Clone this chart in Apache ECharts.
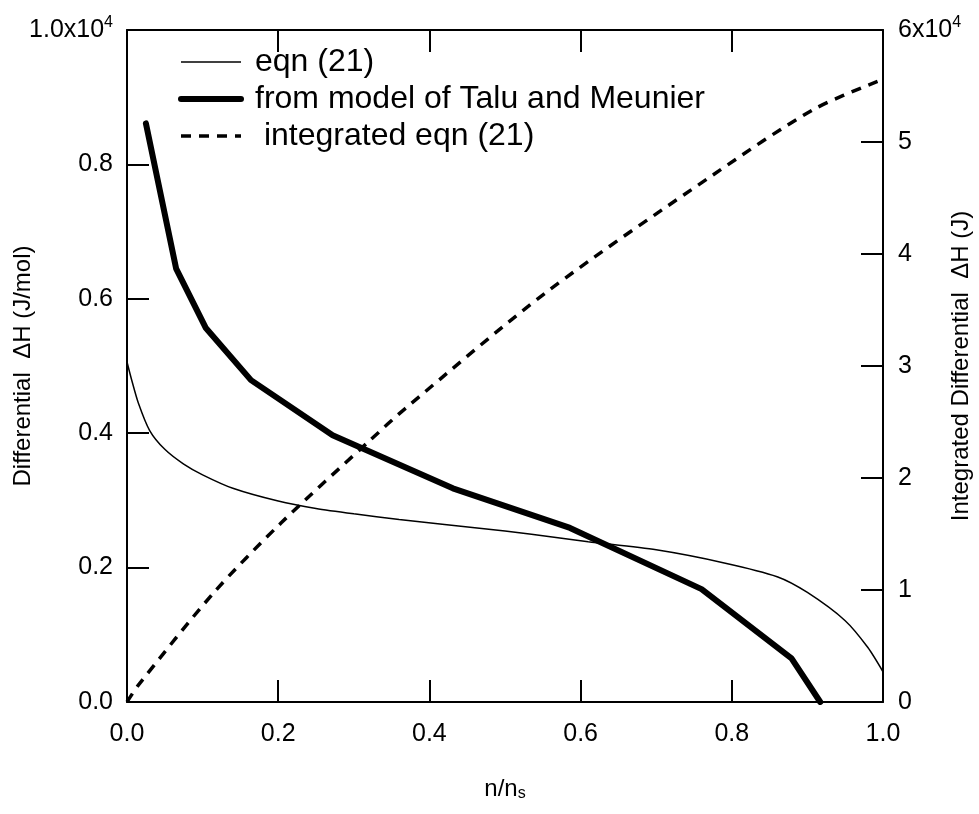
<!DOCTYPE html>
<html>
<head>
<meta charset="utf-8">
<script src="https://cdn.jsdelivr.net/npm/echarts@6/dist/echarts.min.js"></script>
<style>
html,body{margin:0;padding:0;background:#fff;}
#chart{width:979px;height:814px;}
</style>
</head>
<body>
<div id="chart"></div>
<script>
// ---- data ----
const eqn21 = [
  [0.000, 5060], [0.006, 4800], [0.015, 4450], [0.030, 4040], [0.050, 3760],
  [0.075, 3540], [0.100, 3380], [0.140, 3180], [0.200, 2990], [0.250, 2880],
  [0.300, 2800], [0.360, 2715], [0.420, 2640], [0.500, 2545], [0.570, 2445],
  [0.610, 2385], [0.700, 2265], [0.790, 2070], [0.860, 1865], [0.900, 1630],
  [0.950, 1210], [0.980, 810], [1.000, 450]
];
const taluMeunier = [
  [0.025, 8610], [0.065, 6450], [0.104, 5570], [0.164, 4790], [0.272, 3970],
  [0.431, 3180], [0.586, 2590], [0.760, 1680], [0.879, 650], [0.917, 0]
];
const integratedEqn21 = [
  [0.000, 0], [0.015, 1500], [0.114, 9700], [0.204, 16000], [0.322, 23400],
  [0.368, 26200], [0.555, 36600], [0.776, 47100], [0.908, 52900], [1.000, 55600]
];
const seriesNames = ['eqn (21)', 'from model of Talu and Meunier', ' integrated eqn (21)'];
const xTickLabels = ['0.0', '0.2', '0.4', '0.6', '0.8', '1.0'];
const leftTickLabels = ['0.0', '0.2', '0.4', '0.6', '0.8', '1.0x10{sup|4}'];
const rightTickLabels = ['0', '1', '2', '3', '4', '5', '6x10{sup|4}'];

const FONT = '"Liberation Sans", Arial, Helvetica, sans-serif';
const tickFont = 25;
const supRich = {
  sup: { fontSize: 16, fontFamily: FONT, color: '#000', verticalAlign: 'top', padding: [0, 0, 14, 0] }
};

const chart = echarts.init(document.getElementById('chart'), null, { renderer: 'canvas' });

const axisLine = { show: true, onZero: false, lineStyle: { color: '#000', width: 2 } };
const axisTick = { show: true, inside: true, length: 22, lineStyle: { color: '#000', width: 2 } };

chart.setOption({
  backgroundColor: '#fff',
  animation: false,
  grid: { left: 127, right: 96, top: 30, bottom: 112, containLabel: false, outerBoundsMode: 'none' },
  legend: {
    orient: 'vertical',
    left: 178,
    top: 46,
    padding: 0,
    itemWidth: 60,
    itemHeight: 14,
    itemGap: 5,
    data: seriesNames,
    textStyle: { fontSize: 32, fontFamily: FONT, color: '#000', padding: [0, 0, 0, 9] },
    lineStyle: { width: 'inherit', type: 'inherit' },
    itemStyle: { opacity: 0 }
  },
  xAxis: [
    {
      type: 'value', min: 0, max: 1, interval: 0.2, position: 'bottom',
      axisLine: axisLine, axisTick: axisTick, splitLine: { show: false },
      axisLabel: {
        margin: 20, fontSize: tickFont, fontFamily: FONT, color: '#000',
        formatter: (v) => xTickLabels[Math.round(v / 0.2)]
      },
      name: 'n/n{sub|s}', nameLocation: 'middle', nameGap: 74, nameMoveOverlap: false,
      nameTextStyle: {
        fontSize: 24, fontFamily: FONT, color: '#000',
        rich: { sub: { fontSize: 16, fontFamily: FONT, color: '#000', verticalAlign: 'bottom', padding: [10, 0, 0, 0] } }
      }
    },
    {
      type: 'value', min: 0, max: 1, interval: 0.2, position: 'top',
      axisLine: axisLine, axisTick: axisTick, splitLine: { show: false },
      axisLabel: { show: false }
    }
  ],
  yAxis: [
    {
      type: 'value', min: 0, max: 10000, interval: 2000, position: 'left',
      axisLine: axisLine, axisTick: axisTick, splitLine: { show: false },
      axisLabel: {
        margin: 14, fontSize: tickFont, fontFamily: FONT, color: '#000',
        formatter: (v) => leftTickLabels[Math.round(v / 2000)],
        rich: supRich
      },
      name: 'Differential  \u0394H (J/mol)', nameLocation: 'middle', nameGap: 92, nameRotate: 90,
      nameMoveOverlap: false,
      nameTextStyle: { fontSize: 24, fontFamily: FONT, color: '#000' }
    },
    {
      type: 'value', min: 0, max: 60000, interval: 10000, position: 'right',
      axisLine: axisLine, axisTick: axisTick, splitLine: { show: false },
      axisLabel: {
        margin: 15, fontSize: tickFont, fontFamily: FONT, color: '#000',
        formatter: (v) => rightTickLabels[Math.round(v / 10000)],
        rich: supRich
      },
      name: 'Integrated Differential  \u0394H (J)', nameLocation: 'middle', nameGap: 66, nameRotate: 90,
      nameMoveOverlap: false,
      nameTextStyle: { fontSize: 24, fontFamily: FONT, color: '#000' }
    }
  ],
  series: [
    {
      name: seriesNames[0], type: 'line', xAxisIndex: 0, yAxisIndex: 0,
      data: eqn21, smooth: 0.25, showSymbol: false, symbol: 'none', symbolSize: 0,
      itemStyle: { color: '#000' },
      lineStyle: { color: '#000', width: 1.5 }
    },
    {
      name: seriesNames[1], type: 'line', xAxisIndex: 0, yAxisIndex: 0,
      data: taluMeunier, smooth: false, showSymbol: false, symbol: 'none', symbolSize: 0,
      itemStyle: { color: '#000' },
      lineStyle: { color: '#000', width: 6, cap: 'round' }
    },
    {
      name: seriesNames[2], type: 'line', xAxisIndex: 0, yAxisIndex: 1,
      data: integratedEqn21, smooth: 0.3, showSymbol: false, symbol: 'none', symbolSize: 0,
      itemStyle: { color: '#000' },
      lineStyle: { color: '#000', width: 3.5, type: [10, 8] }
    }
  ]
});
</script>
</body>
</html>
